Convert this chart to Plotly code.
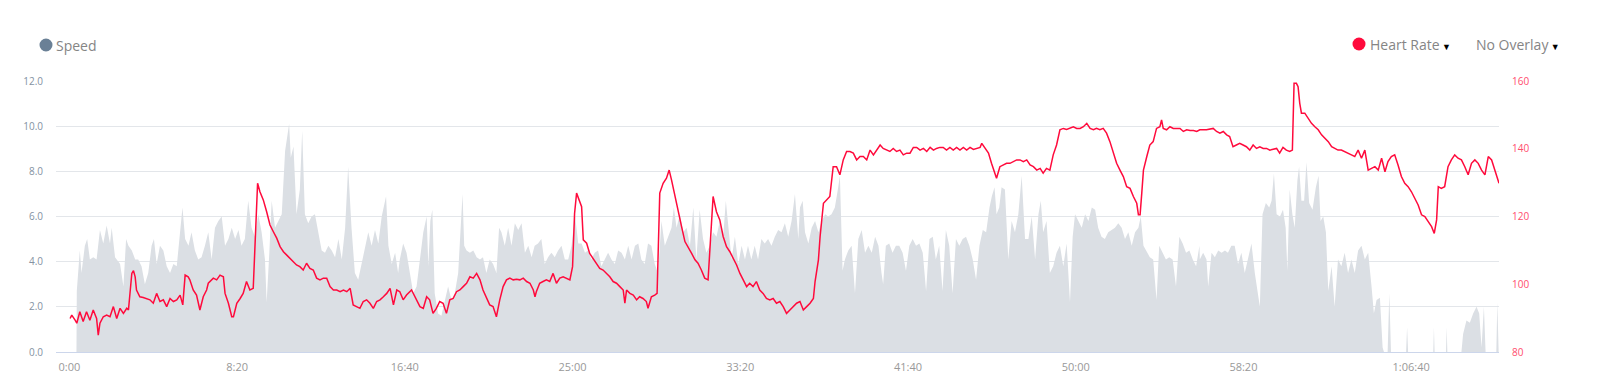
import plotly.graph_objects as go

# ---------------- data ----------------
# x ticks (elapsed seconds) and their labels
x_tick_secs = [0, 500, 1000, 1500, 2000, 2500, 3000, 3500, 4000]
x_tick_labels = ["0:00", "8:20", "16:40", "25:00", "33:20", "41:40", "50:00", "58:20", "1:06:40"]

speed_ticks = [0, 2, 4, 6, 8, 10, 12]
speed_tick_labels = ["0.0", "2.0", "4.0", "6.0", "8.0", "10.0", "12.0"]
hr_ticks = [80, 100, 120, 140, 160]

# heart rate: (seconds, bpm)
hr_samples = [
    (2, 89.9), (7, 90.9), (17, 89.4), (22, 88.5), (31, 91.9), (41, 89.0), (51, 91.9), (61, 89.4),
    (71, 92.4), (81, 89.9), (86, 85.0), (91, 88.5), (101, 90.4), (111, 90.9), (121, 90.4), (131, 93.4),
    (141, 89.9), (151, 92.9), (161, 91.4), (171, 92.9), (176, 92.4), (186, 103.2), (191, 104.0), (196, 102.2),
    (200, 98.3), (210, 96.3), (220, 96.1), (230, 95.8), (240, 95.4), (250, 94.4), (260, 97.3), (270, 94.9),
    (280, 95.4), (290, 93.4), (300, 95.8), (310, 94.9), (320, 95.4), (330, 96.8), (338, 93.9), (345, 102.7),
    (354, 102.2), (359, 101.3), (369, 98.3), (379, 96.8), (389, 92.4), (399, 96.3), (409, 98.3), (414, 100.3),
    (429, 101.8), (439, 101.3), (449, 102.7), (459, 102.2), (464, 97.3), (474, 94.4), (484, 90.4), (489, 90.4),
    (499, 94.4), (509, 95.8), (518, 97.3), (528, 100.8), (538, 98.3), (548, 98.8), (561, 129.8), (568, 127.3),
    (578, 124.9), (588, 121.4), (598, 117.5), (608, 115.5), (618, 113.6), (628, 111.1), (638, 109.6), (648, 108.6),
    (658, 107.7), (668, 106.7), (677, 105.7), (687, 105.2), (697, 104.2), (707, 106.2), (717, 104.7), (727, 104.2),
    (737, 101.8), (747, 101.3), (757, 101.8), (767, 101.8), (777, 99.3), (787, 98.3), (797, 98.3), (807, 97.8),
    (817, 98.3), (827, 97.8), (837, 98.8), (846, 93.9), (856, 93.4), (866, 92.9), (876, 94.9), (886, 95.4),
    (896, 94.4), (906, 92.9), (916, 94.9), (926, 95.4), (936, 96.3), (946, 97.3), (956, 98.8), (966, 93.9),
    (976, 98.3), (985, 97.8), (995, 95.4), (1005, 96.8), (1020, 98.3), (1030, 96.3), (1045, 93.4), (1055, 92.9),
    (1065, 96.3), (1074, 95.4), (1084, 91.4), (1094, 92.9), (1104, 94.9), (1114, 94.4), (1124, 91.4), (1134, 95.4),
    (1144, 95.8), (1154, 97.8), (1164, 98.3), (1174, 99.3), (1184, 100.3), (1194, 102.2), (1204, 101.8), (1214, 103.2),
    (1224, 101.3), (1233, 98.3), (1243, 96.3), (1253, 93.9), (1263, 93.4), (1273, 90.4), (1283, 95.4), (1293, 99.3),
    (1303, 101.3), (1313, 101.8), (1323, 101.3), (1333, 101.5), (1343, 101.3), (1353, 101.8), (1363, 100.8), (1373, 100.3),
    (1383, 98.3), (1388, 96.3), (1392, 97.8), (1402, 100.3), (1412, 100.8), (1422, 101.3), (1432, 100.8), (1442, 103.2),
    (1452, 100.3), (1462, 101.8), (1472, 102.2), (1482, 101.8), (1492, 101.3), (1500, 105.2), (1506, 120.9), (1512, 126.9),
    (1522, 124.4), (1527, 122.9), (1532, 113.1), (1542, 112.1), (1551, 109.1), (1561, 107.7), (1571, 106.2), (1581, 104.7),
    (1591, 104.2), (1601, 103.2), (1611, 102.2), (1621, 100.8), (1631, 100.3), (1641, 99.3), (1651, 98.3), (1656, 94.4),
    (1661, 98.3), (1671, 97.3), (1681, 96.8), (1691, 95.4), (1700, 96.3), (1710, 95.8), (1720, 94.9), (1725, 92.9),
    (1735, 96.3), (1745, 96.8), (1752, 97.3), (1760, 126.9), (1770, 129.8), (1780, 131.3), (1788, 133.7), (1795, 130.8),
    (1805, 125.9), (1815, 120.9), (1825, 117.0), (1835, 112.6), (1845, 110.6), (1855, 109.1), (1865, 107.2), (1874, 106.2),
    (1884, 104.2), (1894, 101.8), (1904, 101.3), (1911, 114.1), (1919, 125.9), (1929, 121.4), (1939, 119.0), (1949, 114.1),
    (1959, 111.1), (1969, 109.6), (1979, 107.7), (1989, 105.7), (1999, 103.2), (2009, 101.3), (2019, 99.3), (2028, 100.3),
    (2038, 99.3), (2048, 100.8), (2058, 98.3), (2068, 97.3), (2078, 95.8), (2088, 95.4), (2098, 95.8), (2108, 94.4),
    (2118, 94.9), (2128, 93.4), (2138, 91.4), (2148, 92.4), (2158, 93.4), (2168, 94.4), (2178, 94.9), (2188, 92.4),
    (2198, 93.4), (2208, 94.4), (2218, 95.8), (2223, 100.8), (2233, 107.2), (2238, 114.1), (2248, 123.9), (2258, 124.9),
    (2267, 125.9), (2277, 134.7), (2287, 134.7), (2297, 132.3), (2307, 136.7), (2317, 139.2), (2327, 139.2), (2337, 138.7),
    (2347, 136.7), (2357, 137.7), (2367, 137.7), (2377, 136.7), (2387, 139.6), (2397, 138.2), (2407, 139.6), (2417, 141.1),
    (2426, 140.1), (2436, 139.6), (2446, 139.2), (2456, 140.1), (2466, 139.2), (2476, 139.6), (2486, 138.2), (2496, 138.7),
    (2506, 138.7), (2516, 140.4), (2526, 140.4), (2536, 139.6), (2546, 140.1), (2556, 139.2), (2566, 140.4), (2576, 139.6),
    (2585, 140.1), (2595, 140.4), (2605, 140.4), (2615, 139.6), (2625, 140.4), (2635, 139.6), (2645, 140.4), (2655, 139.6),
    (2665, 140.4), (2675, 139.6), (2685, 140.4), (2695, 139.8), (2705, 140.1), (2715, 140.4), (2720, 141.6), (2730, 140.1),
    (2740, 138.7), (2749, 135.7), (2759, 132.8), (2764, 131.3), (2774, 134.7), (2784, 135.2), (2794, 135.7), (2804, 135.7),
    (2814, 136.2), (2824, 136.7), (2834, 136.7), (2844, 136.2), (2854, 136.7), (2864, 135.2), (2874, 134.7), (2884, 133.7),
    (2894, 134.2), (2903, 132.8), (2913, 134.2), (2923, 133.7), (2933, 138.2), (2943, 141.1), (2953, 145.6), (2963, 146.0),
    (2973, 145.7), (2983, 146.0), (2993, 146.5), (3003, 146.0), (3013, 146.0), (3023, 146.5), (3033, 147.5), (3043, 146.0),
    (3053, 145.6), (3062, 146.0), (3072, 145.6), (3082, 146.0), (3092, 144.6), (3102, 142.1), (3112, 138.7), (3122, 135.7),
    (3132, 133.7), (3142, 131.8), (3152, 128.8), (3162, 128.3), (3172, 125.9), (3182, 123.9), (3187, 120.5), (3192, 120.5),
    (3197, 126.9), (3202, 133.7), (3212, 137.7), (3221, 141.1), (3231, 142.1), (3241, 146.0), (3251, 146.5), (3256, 148.5),
    (3261, 146.0), (3271, 145.6), (3281, 146.5), (3291, 146.0), (3301, 146.0), (3311, 146.0), (3321, 145.1), (3331, 145.6),
    (3341, 145.4), (3351, 145.4), (3361, 145.1), (3370, 145.6), (3390, 145.6), (3410, 146.0), (3420, 145.1), (3430, 144.6),
    (3440, 145.1), (3450, 144.1), (3459, 143.6), (3469, 140.6), (3479, 141.1), (3489, 141.6), (3499, 141.1), (3509, 140.6),
    (3519, 139.6), (3529, 141.1), (3539, 140.1), (3549, 140.6), (3559, 140.1), (3569, 140.1), (3579, 139.6), (3589, 139.8),
    (3599, 140.1), (3608, 138.7), (3618, 140.4), (3628, 139.6), (3638, 139.2), (3646, 139.6), (3651, 159.3), (3658, 159.3),
    (3663, 158.3), (3668, 153.4), (3673, 150.5), (3683, 150.5), (3693, 149.0), (3703, 147.5), (3713, 146.5), (3723, 145.6),
    (3733, 144.1), (3743, 143.1), (3753, 142.1), (3763, 140.6), (3772, 140.1), (3782, 139.6), (3792, 139.6), (3802, 139.2),
    (3812, 138.7), (3822, 138.2), (3832, 137.7), (3842, 139.6), (3852, 137.2), (3862, 139.6), (3872, 133.7), (3882, 134.2),
    (3892, 134.7), (3902, 133.7), (3912, 137.2), (3922, 133.2), (3931, 136.2), (3941, 137.7), (3951, 138.2), (3961, 135.2),
    (3971, 131.8), (3981, 129.8), (3991, 128.8), (4001, 127.3), (4011, 125.4), (4021, 123.4), (4031, 120.5), (4041, 120.0),
    (4051, 118.5), (4061, 117.0), (4069, 115.0), (4076, 119.0), (4081, 128.8), (4090, 128.3), (4100, 128.8), (4110, 134.7),
    (4120, 136.7), (4130, 138.2), (4140, 137.2), (4150, 136.7), (4160, 134.7), (4170, 132.3), (4180, 135.7), (4190, 136.7),
    (4200, 135.7), (4210, 133.7), (4220, 132.3), (4230, 137.7), (4240, 136.7), (4250, 133.7), (4262, 129.8),
]

# speed: (seconds, value)
speed_samples = [
    (0, 0), (21, 0), (22, 2.7), (31, 4.5), (36, 3.5), (46, 4.7), (53, 5.0), (61, 4.1), (71, 4.2), (81, 4.1),
    (91, 5.4), (101, 4.8), (111, 5.6), (121, 4.8), (126, 5.5), (136, 4.2), (151, 3.9), (161, 2.9), (169, 5.0), (176, 4.7),
    (186, 4.5), (196, 4.1), (205, 4.1), (215, 3.8), (225, 3.0), (235, 3.5), (245, 4.7), (252, 5.0), (260, 3.9), (270, 4.7),
    (280, 4.5), (290, 3.8), (300, 3.5), (310, 3.9), (320, 3.8), (330, 5.5), (337, 6.4), (345, 5.0), (355, 4.7), (364, 5.3),
    (374, 4.5), (384, 4.1), (394, 4.2), (404, 4.7), (414, 5.3), (424, 4.1), (434, 5.5), (444, 5.8), (454, 6.0), (464, 4.7),
    (474, 5.0), (484, 5.5), (494, 5.0), (504, 5.4), (513, 4.7), (523, 5.0), (533, 6.7), (543, 5.5), (553, 5.1), (563, 6.1),
    (573, 5.3), (583, 4.1), (588, 2.2), (596, 4.4), (603, 6.7), (613, 5.5), (623, 5.8), (633, 6.1), (643, 8.9), (650, 9.5),
    (655, 10.1), (660, 8.6), (668, 9.1), (677, 6.1), (687, 7.2), (694, 9.8), (702, 6.1), (712, 5.7), (722, 6.0), (732, 6.1),
    (742, 5.3), (752, 4.5), (762, 4.4), (772, 4.7), (782, 4.5), (792, 4.2), (802, 5.0), (812, 4.1), (822, 5.5), (831, 8.2),
    (841, 5.5), (851, 3.5), (861, 3.2), (871, 3.9), (881, 4.7), (891, 5.3), (901, 4.7), (911, 5.4), (921, 4.8), (931, 6.0),
    (944, 6.9), (951, 4.7), (961, 3.9), (971, 4.4), (980, 3.5),
    (985, 4.1), (995, 4.8), (1005, 4.4), (1015, 3.5), (1025, 2.6), (1035, 2.9), (1045, 4.1), (1055, 5.3), (1065, 6.0), (1070, 3.8),
    (1076, 5.8), (1082, 6.3), (1089, 2.6), (1099, 1.7), (1109, 1.6), (1119, 2.3), (1129, 2.9), (1139, 2.3), (1149, 2.6), (1159, 3.5),
    (1167, 5.8), (1172, 7.0), (1177, 4.7), (1184, 4.5), (1194, 4.4), (1204, 4.5), (1214, 4.2), (1224, 4.1), (1233, 4.2), (1243, 3.5),
    (1253, 4.1), (1263, 3.9), (1273, 3.5), (1281, 5.5), (1288, 5.3), (1298, 4.7), (1308, 5.5), (1318, 4.7), (1328, 5.7), (1338, 5.4),
    (1348, 5.7), (1358, 4.4), (1368, 4.7), (1378, 4.2), (1387, 4.7), (1397, 4.8), (1407, 5.0), (1417, 3.9), (1427, 4.2), (1437, 4.4),
    (1447, 4.2), (1457, 4.5), (1467, 4.7), (1477, 4.1), (1487, 4.1), (1497, 4.7), (1507, 6.1), (1517, 4.8), (1527, 4.8), (1537, 4.4),
    (1546, 4.5), (1556, 4.1), (1566, 4.4), (1576, 4.5), (1586, 3.8), (1596, 4.1), (1606, 4.4), (1616, 4.1), (1626, 3.9), (1636, 4.5),
    (1646, 4.4), (1656, 4.1), (1666, 4.7), (1676, 4.1), (1686, 4.7), (1696, 4.8), (1705, 4.1), (1715, 3.9), (1725, 4.8), (1735, 4.7),
    (1745, 3.9), (1755, 3.5), (1765, 5.8), (1775, 4.7), (1785, 5.1), (1795, 5.5), (1802, 6.4), (1810, 5.5), (1820, 6.1), (1830, 5.3),
    (1840, 5.5), (1850, 4.7), (1860, 6.4), (1869, 4.1), (1879, 6.3), (1889, 5.0), (1899, 4.4), (1909, 4.7), (1919, 5.3), (1929, 5.1),
    (1939, 5.8), (1949, 5.1), (1957, 6.7), (1964, 5.5), (1974, 4.1), (1984, 5.1), (1994, 3.9), (2004, 4.7), (2014, 4.1), (2023, 4.7),
    (2033, 4.1), (2043, 4.7), (2053, 4.1), (2063, 5.0), (2073, 4.8), (2083, 5.0), (2093, 4.7), (2103, 5.1), (2113, 5.4), (2123, 5.3),
    (2133, 5.7), (2143, 5.1), (2153, 5.8), (2163, 7.0), (2173, 5.0),
    (2178, 6.4), (2186, 6.7), (2193, 5.3), (2203, 4.8), (2213, 5.5), (2223, 5.8), (2233, 5.3), (2243, 5.8), (2253, 6.1), (2262, 6.0),
    (2272, 6.1), (2282, 6.4), (2292, 7.3), (2297, 7.8), (2305, 3.6), (2312, 4.1), (2322, 4.5), (2332, 4.7), (2342, 2.6), (2352, 5.0),
    (2362, 5.4), (2372, 4.4), (2382, 4.7), (2392, 4.4), (2402, 5.1), (2412, 4.7), (2421, 3.5), (2426, 3.0), (2434, 4.7), (2444, 4.8),
    (2454, 4.4), (2464, 4.7), (2474, 4.7), (2484, 4.4), (2494, 3.6), (2504, 4.7), (2514, 5.0), (2524, 4.7), (2534, 4.8), (2544, 4.4),
    (2554, 2.7), (2564, 5.0), (2574, 5.1), (2583, 4.1), (2593, 4.7), (2603, 2.7), (2613, 5.4), (2623, 4.7), (2633, 2.6), (2643, 5.0),
    (2653, 4.7), (2663, 5.0), (2673, 5.1), (2683, 4.7), (2693, 4.1), (2703, 3.2), (2713, 4.7), (2723, 5.4), (2733, 5.3), (2743, 6.4),
    (2750, 6.9), (2758, 7.3), (2764, 6.1), (2772, 6.4), (2779, 7.3), (2789, 7.2), (2799, 4.1), (2809, 5.8), (2819, 5.3), (2829, 6.1),
    (2839, 7.8), (2849, 5.0), (2859, 5.0), (2869, 6.0), (2879, 4.1), (2889, 6.1), (2896, 6.7), (2903, 5.3), (2913, 5.8), (2923, 3.5),
    (2933, 3.8), (2943, 4.4), (2953, 4.7), (2963, 3.8), (2973, 4.8), (2983, 2.2), (2991, 5.1), (2998, 6.1), (3008, 5.8), (3018, 5.5),
    (3028, 6.1), (3038, 5.8), (3048, 6.4), (3058, 6.3), (3067, 5.5), (3077, 5.1), (3087, 5.0), (3097, 5.3), (3107, 5.4), (3117, 5.5),
    (3127, 5.7), (3137, 5.5), (3147, 5.0), (3157, 5.3), (3167, 4.7), (3177, 5.3), (3187, 5.5), (3194, 6.0), (3202, 4.7), (3212, 4.4),
    (3221, 4.2), (3231, 4.1), (3241, 2.3), (3249, 4.7), (3259, 4.4), (3269, 4.1), (3279, 4.2), (3289, 4.1), (3299, 2.9), (3309, 5.1),
    (3319, 4.8), (3329, 4.4), (3339, 4.5), (3349, 4.1), (3359, 3.8), (3369, 4.7),
    (3370, 4.1), (3380, 4.4), (3390, 4.1), (3395, 2.9), (3405, 4.4), (3415, 4.2), (3425, 4.5), (3435, 4.4), (3445, 4.5), (3454, 4.4),
    (3464, 4.7), (3474, 4.7), (3484, 3.9), (3494, 4.4), (3504, 3.5), (3514, 4.2), (3524, 4.8), (3534, 3.5), (3544, 2.6), (3549, 2.0),
    (3557, 6.1), (3567, 6.6), (3577, 6.4), (3584, 6.7), (3591, 7.9), (3599, 6.1), (3609, 6.0), (3618, 6.3), (3626, 5.5), (3631, 3.6),
    (3638, 7.2), (3646, 6.1), (3653, 5.5), (3661, 7.6), (3666, 8.2), (3673, 6.7), (3681, 6.7), (3688, 8.4), (3696, 6.6), (3706, 6.3),
    (3716, 7.3), (3724, 7.8), (3730, 5.8), (3738, 6.0), (3746, 5.3), (3753, 2.7), (3763, 3.8), (3772, 2.0), (3782, 4.1), (3792, 3.8),
    (3802, 4.4), (3812, 3.5), (3822, 4.1), (3832, 3.5), (3842, 4.5), (3852, 4.7), (3862, 4.1), (3872, 4.4), (3882, 2.9), (3889, 1.7),
    (3897, 2.3), (3907, 2.4), (3915, 0.2), (3919, 0), (3930, 0), (3935, 2.6), (3940, 0), (3985, 0), (3988, 1.1), (3991, 0),
    (4066, 0), (4068, 1.1), (4070, 0), (4104, 0), (4106, 1.1), (4108, 0), (4150, 0), (4155, 0.8), (4165, 1.4), (4175, 1.3),
    (4185, 1.7), (4195, 2.0), (4203, 1.7), (4210, 0.2), (4217, 2.0), (4222, 0), (4254, 0), (4257, 2.2), (4261, 0),
]

hr_t = [p[0] for p in hr_samples]
hr_bpm = [p[1] for p in hr_samples]
spd_t = [p[0] for p in speed_samples]
spd_val = [p[1] for p in speed_samples]

# ---------------- styles ----------------
FONT = "Open Sans"
HR_COLOR = "#ff0a3c"
AREA_COLOR = "#dbdfe4"
GRID_COLOR = "#e3e6ea"

# page has an 8px body margin: figure is 1584x375 so the page is 1600x391
W, H = 1584, 375
ML, MT, MR, MB = 48, 73, 93, 31
PW, PH = W - ML - MR, H - MT - MB  # 1443 x 271


def px(xpage):
    return (xpage - 8 - ML) / PW


def py(ypage):
    return 1 + (MT - (ypage - 8)) / PH


fig = go.Figure()
fig.add_trace(go.Scatter(
    x=spd_t, y=spd_val, mode="lines", fill="tozeroy",
    line=dict(width=0, color=AREA_COLOR), fillcolor=AREA_COLOR,
    name="Speed", yaxis="y", hoverinfo="skip",
))
fig.add_trace(go.Scatter(
    x=hr_t, y=hr_bpm, mode="lines",
    line=dict(width=1.5, color=HR_COLOR),
    name="Heart Rate", yaxis="y2",
))

fig.update_layout(
    width=W, height=H,
    margin=dict(l=ML, r=MR, t=MT, b=MB, autoexpand=False),
    paper_bgcolor="white", plot_bgcolor="white",
    showlegend=False,
    font=dict(family=FONT, color="#888888"),
    xaxis=dict(
        range=[-40, 4262], tickvals=x_tick_secs, ticktext=x_tick_labels,
        showgrid=False, zeroline=False, showline=True, linecolor="#ccd6eb", linewidth=1,
        ticks="outside", ticklen=5, tickcolor="rgba(0,0,0,0)",
        tickfont=dict(family=FONT, size=11, color="#999999"),
    ),
    yaxis=dict(
        range=[0, 12], tickvals=speed_ticks, ticktext=speed_tick_labels,
        showgrid=True, gridcolor=GRID_COLOR, gridwidth=1, zeroline=False,
        ticks="", ticklabelstandoff=12,
        tickfont=dict(family=FONT, size=10, color="#8492a2"),
    ),
    yaxis2=dict(
        range=[80, 160], tickvals=hr_ticks, overlaying="y", side="right",
        showgrid=False, zeroline=False, ticks="", ticklabelstandoff=12,
        tickfont=dict(family=FONT, size=10, color="#ff4d6d"),
    ),
)

# header legend / selectors
fig.add_shape(type="circle", xref="paper", yref="paper", xsizemode="pixel", ysizemode="pixel",
              xanchor=px(46), yanchor=py(45),
              x0=-6.5, x1=6.5, y0=-6.5, y1=6.5, fillcolor="#6a8096", line=dict(width=0))
fig.add_shape(type="circle", xref="paper", yref="paper", xsizemode="pixel", ysizemode="pixel",
              xanchor=px(1359), yanchor=py(44),
              x0=-6.5, x1=6.5, y0=-6.5, y1=6.5, fillcolor=HR_COLOR, line=dict(width=0))

fig.add_annotation(text="Speed", xref="paper", yref="paper", x=px(54), y=py(45),
                   xanchor="left", yanchor="middle", showarrow=False,
                   font=dict(family=FONT, size=14, color="#858585"))
fig.add_annotation(text="Heart Rate<span style='font-size:9px;color:#000'> ▼</span>", xref="paper", yref="paper",
                   x=px(1368), y=py(44),
                   xanchor="left", yanchor="middle", showarrow=False,
                   font=dict(family=FONT, size=14, color="#858585"))
fig.add_annotation(text="No Overlay<span style='font-size:9px;color:#000'> ▼</span>", xref="paper", yref="paper",
                   x=px(1474), y=py(44),
                   xanchor="left", yanchor="middle", showarrow=False,
                   font=dict(family=FONT, size=14, color="#858585"))

fig.write_html("out.html")
